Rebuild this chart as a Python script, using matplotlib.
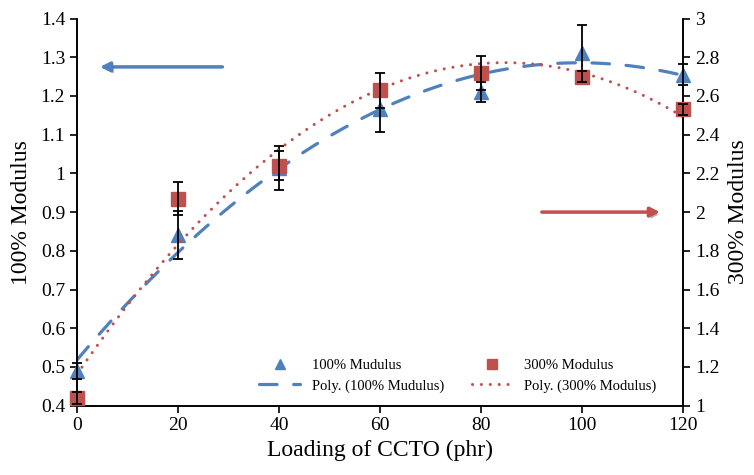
import numpy as np
import matplotlib
matplotlib.use("Agg")
import matplotlib.pyplot as plt
import matplotlib.patheffects as pe
from matplotlib.ticker import FuncFormatter, MultipleLocator

plt.rcParams['font.family'] = ['Liberation Serif', 'DejaVu Serif']

# CCTO loading (phr) and measured moduli
loading = [0, 20, 40, 60, 80, 100, 120]
modulus_100 = [0.49, 0.84, 1.015, 1.165, 1.21, 1.31, 1.255]
err_100 = [0.02, 0.062, 0.057, 0.058, 0.026, 0.074, 0.027]
modulus_300 = [1.04, 2.07, 2.24, 2.63, 2.72, 2.70, 2.53]
err_300 = [0.03, 0.085, 0.075, 0.09, 0.088, 0.03, 0.03]

blue = '#4F81BD'
red = '#C0504D'

fig = plt.figure(figsize=(7.54, 4.75), dpi=100)
ax = fig.add_axes([0.102, 0.146, 0.804, 0.815])
ax2 = ax.twinx()

x = np.array(loading, dtype=float)
xx = np.linspace(0, 120, 300)

# second-order polynomial trendlines
p100 = np.polyfit(x, modulus_100, 2)
p300 = np.polyfit(x, modulus_300, 2)

tri, = ax.plot(x, modulus_100, linestyle='none', marker='^', ms=9.5,
               color=blue, zorder=3, clip_on=False, label='100% Mudulus')
eb = ax.errorbar(x, modulus_100, yerr=err_100, fmt='none', ecolor='black',
                 elinewidth=1.3, capsize=3.5, capthick=1.3, zorder=4)
fit100, = ax.plot(xx, np.polyval(p100, xx), color=blue, lw=2.3,
                  dashes=(5.5, 5.2), dash_capstyle='round', zorder=2,
                  label='Poly. (100% Mudulus)')

sq, = ax2.plot(x, modulus_300, linestyle='none', marker='s', ms=9.5,
               color=red, zorder=3, clip_on=False, label='300% Modulus')
eb2 = ax2.errorbar(x, modulus_300, yerr=err_300, fmt='none', ecolor='black',
                   elinewidth=1.3, capsize=3.5, capthick=1.3, zorder=4)
fit300, = ax2.plot(xx, np.polyval(p300, xx), color=red, lw=2.2,
                   dashes=(0.01, 2.9), dash_capstyle='round', zorder=2,
                   label='Poly. (300% Modulus)')

for container in (eb, eb2):
    for artist in container.lines[1] + container.lines[2]:
        artist.set_clip_on(False)

ax.set_xlim(0, 120)
ax.set_ylim(0.4, 1.4)
ax2.set_ylim(1, 3)
ax.xaxis.set_major_locator(MultipleLocator(20))
ax.yaxis.set_major_locator(MultipleLocator(0.1))
ax2.yaxis.set_major_locator(MultipleLocator(0.2))
fmt = FuncFormatter(lambda v, p: '{:g}'.format(round(v, 2)))
ax.yaxis.set_major_formatter(fmt)
ax2.yaxis.set_major_formatter(fmt)

for a in (ax, ax2):
    a.tick_params(labelsize=14, width=1.2, length=5, direction='out', color='black')
    for s in a.spines.values():
        s.set_linewidth(1.2)
ax.spines['top'].set_visible(False)
ax2.spines['top'].set_visible(False)

ax.set_xlabel('Loading of CCTO (phr)', fontsize=17, labelpad=4)
ax.set_ylabel('100% Modulus', fontsize=17, labelpad=6)
ax2.set_ylabel('300% Modulus', fontsize=17, labelpad=6)

# arrows pointing each series to its axis
shadow = [pe.SimplePatchShadow(offset=(1.5, -2), alpha=0.35), pe.Normal()]
ax2.annotate('', xy=(0.038, 0.875), xytext=(0.24, 0.875),
             xycoords='axes fraction', textcoords='axes fraction',
             arrowprops=dict(arrowstyle='-|>', color=blue, lw=2.5,
                             mutation_scale=14, shrinkA=0, shrinkB=0,
                             path_effects=shadow))
ax2.annotate('', xy=(0.962, 0.5), xytext=(0.767, 0.5),
             xycoords='axes fraction', textcoords='axes fraction',
             arrowprops=dict(arrowstyle='-|>', color=red, lw=2.5,
                             mutation_scale=14, shrinkA=0, shrinkB=0,
                             path_effects=shadow))

ax2.legend([tri, fit100, sq, fit300],
           ['100% Mudulus', 'Poly. (100% Mudulus)', '300% Modulus', 'Poly. (300% Modulus)'],
           ncol=2, loc='lower right', bbox_to_anchor=(0.978, 0.0), frameon=False,
           fontsize=10.5, handlelength=2.8, columnspacing=1.9, labelspacing=0.45,
           markerscale=0.7)

fig.savefig('out.png', dpi=100)
